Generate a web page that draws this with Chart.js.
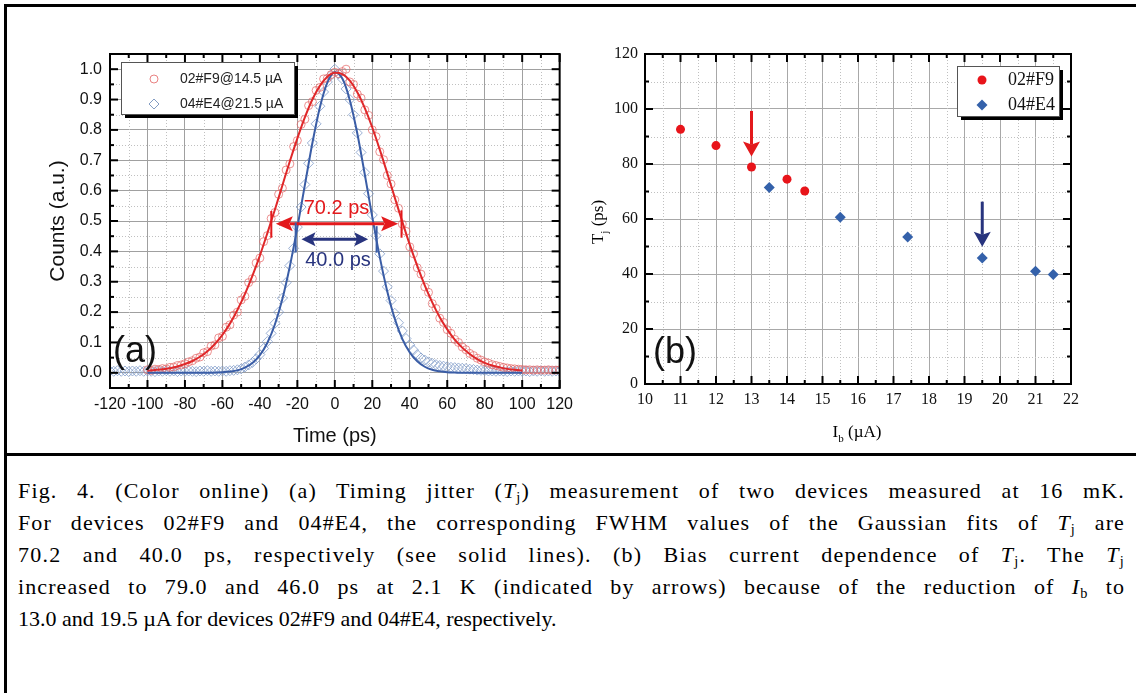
<!DOCTYPE html>
<html>
<head>
<meta charset="utf-8">
<script src="https://cdn.jsdelivr.net/npm/chart.js@4.4.0/dist/chart.umd.min.js"></script>
<style>
  html, body { margin: 0; padding: 0; background: #fff; }
  body { width: 1136px; height: 693px; position: relative; overflow: hidden; }
  #frame { position: absolute; left: 4px; top: 4px; width: 1140px; height: 700px; border-left: 3px solid #000; border-top: 3px solid #000; }
  #sep { position: absolute; left: 4px; top: 453px; width: 1140px; height: 3px; background: #000; }
  #chartA { position: absolute; left: 0; top: 0; }
  #chartB { position: absolute; left: 580px; top: 0; }
  #caption { position: absolute; left: 18px; top: 475px; width: 1107px; font-family: "Liberation Serif", "Times New Roman", serif; font-size: 22px; line-height: 32px; color: #000; }
  #caption .ln { text-align: justify; text-align-last: justify; white-space: nowrap; }
  #caption .last { text-align: left; text-align-last: left; }
  #caption sub { font-size: 65%; vertical-align: -0.25em; line-height: 0; }
</style>
</head>
<body>
<div id="frame"></div>
<div id="sep"></div>
<canvas id="chartA" width="580" height="455"></canvas>
<canvas id="chartB" width="556" height="455"></canvas>
<div id="caption">
  <div class="ln">Fig. 4. (Color online) (a) Timing jitter (<i>T</i><sub>j</sub>) measurement of two devices measured at 16 mK.</div>
  <div class="ln">For devices 02#F9 and 04#E4, the corresponding FWHM values of the Gaussian fits of <i>T</i><sub>j</sub> are</div>
  <div class="ln">70.2 and 40.0 ps, respectively (see solid lines). (b) Bias current dependence of <i>T</i><sub>j</sub>. The <i>T</i><sub>j</sub></div>
  <div class="ln">increased to 79.0 and 46.0 ps at 2.1 K (indicated by arrows) because of the reduction of <i>I</i><sub>b</sub> to</div>
  <div class="ln last">13.0 and 19.5 µA for devices 02#F9 and 04#E4, respectively.</div>
</div>
<script>
// ---- (a) timing jitter histograms ----
const timePs = [
  -120, -118, -116, -114, -112, -110, -108, -106, -104, -102,
  -100, -98, -96, -94, -92, -90, -88, -86, -84, -82,
  -80, -78, -76, -74, -72, -70, -68, -66, -64, -62,
  -60, -58, -56, -54, -52, -50, -48, -46, -44, -42,
  -40, -38, -36, -34, -32, -30, -28, -26, -24, -22,
  -20, -18, -16, -14, -12, -10, -8, -6, -4, -2,
  0, 2, 4, 6, 8, 10, 12, 14, 16, 18,
  20, 22, 24, 26, 28, 30, 32, 34, 36, 38,
  40, 42, 44, 46, 48, 50, 52, 54, 56, 58,
  60, 62, 64, 66, 68, 70, 72, 74, 76, 78,
  80, 82, 84, 86, 88, 90, 92, 94, 96, 98,
  100, 102, 104, 106, 108, 110, 112, 114, 116, 118,
  120
];
const countsF9 = [
  null, null, null, null, null, null, null, null, null, null,
  .010, .008, .012, .011, .014, .013, .018, .019, .024, .026,
  .030, .036, .040, .048, .052, .066, .070, .088, .092, .115,
  .120, .150, .158, .190, .200, .240, .252, .297, .310, .362,
  .378, .432, .452, .508, .528, .588, .608, .668, .688, .745,
  .765, .818, .835, .880, .893, .930, .940, .968, .970, .982,
  .990, .985, .992, 1.000, .958, .950, .918, .905, .866, .848,
  .800, .778, .728, .702, .650, .622, .570, .542, .490, .466,
  .415, .392, .346, .325, .283, .265, .228, .212, .180, .166,
  .142, .130, .110, .100, .085, .076, .064, .057, .048, .042,
  .036, .032, .027, .024, .021, .018, .016, .014, .013, .012,
  .011, .010, .010, .009, .010, .009, .009, .010, .009, .009,
  .010
];
const countsE4 = [
  .006, .005, .007, .005, .006, .004, .006, .005, .007, .005,
  .006, .005, .004, .006, .005, .007, .005, .006, .004, .006,
  .005, .006, .005, .004, .006, .005, .007, .005, .006, .005,
  .006, .005, .007, .008, .010, .013, .019, .026, .034, .046,
  .060, .080, .103, .130, .163, .200, .246, .297, .353, .410,
  .480, .546, .620, .690, .757, .820, .878, .925, .958, .980,
  1.000, .985, .968, .935, .900, .850, .790, .726, .660, .590,
  .520, .452, .392, .335, .283, .238, .196, .165, .138, .113,
  .092, .075, .060, .049, .042, .036, .031, .027, .024, .022,
  .020, .018, .017, .016, .015, .014, .012, .011, .009, .008,
  .007, .006, .006, .005, .006, .005, .004, .006, .005, .006,
  .005, .006, .004, .006, .005, .007, .005, .006, .005, .006,
  .005
];
const fitTimePs = [
  -100, -96, -92, -88, -84, -80, -76, -72, -68, -64,
  -60, -56, -52, -48, -44, -40, -36, -32, -28, -24,
  -20, -16, -12, -8, -4, 0, 4, 8, 12, 16,
  20, 24, 28, 32, 36, 40, 44, 48, 52, 56,
  60, 64, 68, 72, 76, 80, 84, 88, 92, 96,
  100
];
const fitF9 = [
  .007, .009, .012, .015, .021, .029, .039, .053, .071, .095,
  .125, .162, .207, .259, .319, .386, .460, .537, .617, .697,
  .772, .841, .900, .945, .975, .988, .984, .962, .924, .872,
  .808, .735, .657, .577, .498, .422, .352, .288, .232, .183,
  .143, .109, .083, .062, .045, .033, .024, .018, .013, .010,
  .008
];
const fitE4 = [
  0, 0, 0, 0, 0, 0, 0, 0, 0, .001,
  .002, .004, .008, .017, .032, .058, .099, .159, .243, .351,
  .479, .618, .756, .874, .956, .990, .969, .898, .788, .653,
  .513, .381, .268, .178, .112, .067, .038, .020, .010, .005,
  .002, .001, 0, 0, 0, 0, 0, 0, 0, 0,
  0
];
const xTicksA = [-120, -100, -80, -60, -40, -20, 0, 20, 40, 60, 80, 100, 120];
const xMinorA = [-110, -90, -70, -50, -30, -10, 10, 30, 50, 70, 90, 110];
const yTicksA = [0, 0.1, 0.2, 0.3, 0.4, 0.5, 0.6, 0.7, 0.8, 0.9, 1.0];
const yMinorA = [0.05, 0.15, 0.25, 0.35, 0.45, 0.55, 0.65, 0.75, 0.85, 0.95];

// ---- (b) jitter vs bias current ----
const biasF9 = [11, 12, 13, 14, 14.5];
const jitterF9 = [92.6, 86.7, 78.9, 74.5, 70.2];
const biasE4 = [13.5, 15.5, 17.4, 19.5, 21, 21.5];
const jitterE4 = [71.5, 60.6, 53.5, 45.8, 41.0, 39.8];
const xTicksB = [10, 11, 12, 13, 14, 15, 16, 17, 18, 19, 20, 21, 22];
const xMinorB = [10.5, 11.5, 12.5, 13.5, 14.5, 15.5, 16.5, 17.5, 18.5, 19.5, 20.5, 21.5];
const yTicksB = [0, 20, 40, 60, 80, 100, 120];
const yMinorB = [10, 30, 50, 70, 90, 110];

const RED = '#e3191c';
const RED_FIT = '#e0282a';
const BLUE_FIT = '#3a5da6';
const NAVY = '#28347e';
const SANS = '"Liberation Sans", Arial, sans-serif';
const SERIF = '"Liberation Serif", "Times New Roman", serif';

function pts(xs, ys) {
  const out = [];
  xs.forEach((x, i) => { if (ys[i] !== null) out.push({ x: x, y: ys[i] }); });
  return out;
}

// minor dotted grid + black frame + inward ticks on all four sides
function boxPlugin(xMajor, xMinor, yMajor, yMinor) {
  return {
    id: 'box',
    beforeDatasetsDraw(chart) {
      const { ctx, chartArea: a, scales: { x, y } } = chart;
      ctx.save();
      ctx.strokeStyle = '#c0c0c0';
      ctx.lineWidth = 1;
      ctx.setLineDash([1, 2]);
      xMinor.forEach(v => {
        const p = Math.round(x.getPixelForValue(v)) + 0.5;
        ctx.beginPath(); ctx.moveTo(p, a.top); ctx.lineTo(p, a.bottom); ctx.stroke();
      });
      yMinor.forEach(v => {
        const p = Math.round(y.getPixelForValue(v)) + 0.5;
        ctx.beginPath(); ctx.moveTo(a.left, p); ctx.lineTo(a.right, p); ctx.stroke();
      });
      ctx.restore();
    },
    afterDraw(chart) {
      const { ctx, chartArea: a, scales: { x, y } } = chart;
      ctx.save();
      ctx.strokeStyle = '#000';
      ctx.lineWidth = 2;
      ctx.strokeRect(a.left, a.top, a.right - a.left, a.bottom - a.top);
      const tick = (vals, len) => {
        vals.forEach(v => {
          const px = x.getPixelForValue(v);
          ctx.beginPath(); ctx.moveTo(px, a.bottom); ctx.lineTo(px, a.bottom - len); ctx.stroke();
          ctx.beginPath(); ctx.moveTo(px, a.top); ctx.lineTo(px, a.top + len); ctx.stroke();
        });
      };
      const tickY = (vals, len) => {
        vals.forEach(v => {
          const py = y.getPixelForValue(v);
          ctx.beginPath(); ctx.moveTo(a.left, py); ctx.lineTo(a.left + len, py); ctx.stroke();
          ctx.beginPath(); ctx.moveTo(a.right, py); ctx.lineTo(a.right - len, py); ctx.stroke();
        });
      };
      tick(xMajor, 8); tick(xMinor, 4);
      tickY(yMajor, 8); tickY(yMinor, 4);
      ctx.restore();
    }
  };
}

function legendBox(ctx, x, y, w, h) {
  ctx.save();
  ctx.fillStyle = '#000';
  ctx.fillRect(x + 4, y + 4, w, h);
  ctx.fillStyle = '#fff';
  ctx.fillRect(x, y, w, h);
  ctx.strokeStyle = '#555';
  ctx.lineWidth = 1;
  ctx.strokeRect(x + 0.5, y + 0.5, w, h);
  ctx.restore();
}

function diamond(ctx, cx, cy, r) {
  ctx.beginPath();
  ctx.moveTo(cx, cy - r); ctx.lineTo(cx + r, cy); ctx.lineTo(cx, cy + r); ctx.lineTo(cx - r, cy);
  ctx.closePath();
}

function hArrow(ctx, x1, x2, y, head, half, color) {
  ctx.save();
  ctx.strokeStyle = color; ctx.fillStyle = color; ctx.lineWidth = 3;
  ctx.beginPath(); ctx.moveTo(x1 + head - 3, y); ctx.lineTo(x2 - head + 3, y); ctx.stroke();
  [[x1, 1], [x2, -1]].forEach(([tip, d]) => {
    ctx.beginPath();
    ctx.moveTo(tip, y);
    ctx.lineTo(tip + d * head, y - half);
    ctx.lineTo(tip + d * head * 0.8, y);
    ctx.lineTo(tip + d * head, y + half);
    ctx.closePath();
    ctx.fill();
  });
  ctx.restore();
}

function vArrow(ctx, x, yTop, yTip, head, half, color) {
  ctx.save();
  ctx.strokeStyle = color; ctx.fillStyle = color; ctx.lineWidth = 3;
  ctx.beginPath(); ctx.moveTo(x, yTop); ctx.lineTo(x, yTip - head + 3); ctx.stroke();
  ctx.beginPath();
  ctx.moveTo(x, yTip);
  ctx.lineTo(x - half, yTip - head);
  ctx.lineTo(x, yTip - head * 0.8);
  ctx.lineTo(x + half, yTip - head);
  ctx.closePath();
  ctx.fill();
  ctx.restore();
}

function vBar(ctx, px, y1, y2, color) {
  ctx.save();
  ctx.strokeStyle = color; ctx.lineWidth = 2;
  ctx.beginPath(); ctx.moveTo(px, y1); ctx.lineTo(px, y2); ctx.stroke();
  ctx.restore();
}

// text with a subscript part, centred on (cx, cy)
function subText(ctx, parts, cx, cy, size, font) {
  ctx.save();
  let total = 0;
  parts.forEach(p => {
    ctx.font = (p.sub ? Math.round(size * 0.65) : size) + 'px ' + font;
    p.w = ctx.measureText(p.t).width;
    total += p.w;
  });
  let x = cx - total / 2;
  ctx.textBaseline = 'middle';
  ctx.textAlign = 'left';
  ctx.fillStyle = '#000';
  parts.forEach(p => {
    ctx.font = (p.sub ? Math.round(size * 0.65) : size) + 'px ' + font;
    ctx.fillText(p.t, x, cy + (p.sub ? size * 0.35 : 0));
    x += p.w;
  });
  ctx.restore();
}

const annotA = {
  id: 'annotA',
  afterDraw(chart) {
    const { ctx, scales: { x, y } } = chart;
    // FWHM markers
    vBar(ctx, x.getPixelForValue(-33.9), y.getPixelForValue(0.445), y.getPixelForValue(0.533), RED);
    vBar(ctx, x.getPixelForValue(35.6), y.getPixelForValue(0.445), y.getPixelForValue(0.535), RED);
    hArrow(ctx, x.getPixelForValue(-31.5), x.getPixelForValue(33.8), y.getPixelForValue(0.491), 17, 7.5, RED);
    vBar(ctx, x.getPixelForValue(-20.9), y.getPixelForValue(0.396), y.getPixelForValue(0.495), BLUE_FIT);
    vBar(ctx, x.getPixelForValue(22.3), y.getPixelForValue(0.396), y.getPixelForValue(0.483), BLUE_FIT);
    hArrow(ctx, x.getPixelForValue(-17.8), x.getPixelForValue(17.8), y.getPixelForValue(0.44), 14, 7, NAVY);
    ctx.save();
    ctx.textAlign = 'center';
    ctx.textBaseline = 'middle';
    ctx.font = '20px ' + SANS;
    ctx.fillStyle = RED;
    ctx.fillText('70.2 ps', x.getPixelForValue(0.9), y.getPixelForValue(0.542));
    ctx.fillStyle = NAVY;
    ctx.fillText('40.0 ps', x.getPixelForValue(1.7), y.getPixelForValue(0.371));
    ctx.fillStyle = '#111';
    ctx.textAlign = 'left';
    ctx.font = '36px ' + SANS;
    ctx.fillText('(a)', 113, 352);
    ctx.restore();
    // legend
    legendBox(ctx, 121, 62, 173, 52);
    ctx.save();
    ctx.lineWidth = 1;
    ctx.strokeStyle = 'rgba(225,90,90,0.75)';
    ctx.beginPath(); ctx.arc(154, 79, 4, 0, Math.PI * 2); ctx.stroke();
    ctx.strokeStyle = 'rgba(110,140,185,0.85)';
    diamond(ctx, 154, 104, 5); ctx.stroke();
    ctx.fillStyle = '#222';
    ctx.font = '14px ' + SANS;
    ctx.textBaseline = 'middle';
    ctx.fillText('02#F9@14.5 µA', 180, 79);
    ctx.fillText('04#E4@21.5 µA', 180, 104);
    ctx.restore();
  }
};

new Chart(document.getElementById('chartA'), {
  type: 'scatter',
  data: {
    datasets: [
      { label: '02#F9 fit', data: pts(fitTimePs, fitF9), showLine: true, pointRadius: 0, borderColor: RED_FIT, borderWidth: 2, cubicInterpolationMode: 'monotone' },
      { label: '04#E4 fit', data: pts(fitTimePs, fitE4), showLine: true, pointRadius: 0, borderColor: BLUE_FIT, borderWidth: 2, cubicInterpolationMode: 'monotone' },
      { label: '02#F9@14.5 µA', data: pts(timePs, countsF9), pointStyle: 'circle', pointRadius: 4, borderWidth: 1, borderColor: 'rgba(228,100,100,0.7)', backgroundColor: 'rgba(0,0,0,0)' },
      { label: '04#E4@21.5 µA', data: pts(timePs, countsE4), pointStyle: 'rectRot', pointRadius: 5, borderWidth: 1, borderColor: 'rgba(120,150,198,0.75)', backgroundColor: 'rgba(0,0,0,0)' }
    ]
  },
  options: {
    responsive: false,
    animation: false,
    layout: { padding: { top: 54, right: 20, left: 0, bottom: 0 } },
    plugins: { legend: { display: false }, tooltip: { enabled: false } },
    scales: {
      x: {
        type: 'linear', min: -120, max: 120,
        afterBuildTicks: s => { s.ticks = xTicksA.map(v => ({ value: v })); },
        afterFit: s => { s.height = 67; },
        grid: { color: '#a0a0a0', lineWidth: 1, drawTicks: false },
        border: { display: false },
        ticks: { autoSkip: false, maxRotation: 0, padding: 7, color: '#111', font: { family: SANS, size: 16 } },
        title: { display: true, text: 'Time (ps)', color: '#111', font: { family: SANS, size: 20 }, padding: { top: 0, bottom: 7 } }
      },
      y: {
        type: 'linear', min: -0.05, max: 1.05,
        afterBuildTicks: s => { s.ticks = yTicksA.map(v => ({ value: v })); },
        afterFit: s => { s.width = 110; },
        grid: { color: '#a0a0a0', lineWidth: 1, drawTicks: false },
        border: { display: false },
        ticks: { padding: 8, color: '#111', font: { family: SANS, size: 16 }, callback: v => v.toFixed(1) },
        title: { display: true, text: 'Counts (a.u.)', color: '#111', font: { family: SANS, size: 21 }, padding: { top: 46, bottom: 0 } }
      }
    }
  },
  plugins: [boxPlugin(xTicksA, xMinorA, yTicksA, yMinorA), annotA]
});

const annotB = {
  id: 'annotB',
  afterDraw(chart) {
    const { ctx, scales: { x, y } } = chart;
    vArrow(ctx, x.getPixelForValue(13), y.getPixelForValue(99.3), y.getPixelForValue(82.7), 15, 8.5, RED);
    vArrow(ctx, x.getPixelForValue(19.5), y.getPixelForValue(66.3), y.getPixelForValue(49.9), 15, 8.5, NAVY);
    ctx.save();
    ctx.fillStyle = '#111';
    ctx.font = '36px ' + SANS;
    ctx.textBaseline = 'middle';
    ctx.fillText('(b)', 73, 353);
    ctx.restore();
    // axis titles with subscripts
    subText(ctx, [{ t: 'I' }, { t: 'b', sub: true }, { t: ' (µA)' }], 277, 433, 17, SERIF);
    ctx.save();
    ctx.translate(19, 222);
    ctx.rotate(-Math.PI / 2);
    subText(ctx, [{ t: 'T' }, { t: 'j', sub: true }, { t: ' (ps)' }], 0, 0, 17, SERIF);
    ctx.restore();
    // legend
    legendBox(ctx, 377, 66, 102, 50);
    ctx.save();
    ctx.fillStyle = '#e8141a';
    ctx.beginPath(); ctx.arc(402, 80, 4.5, 0, Math.PI * 2); ctx.fill();
    ctx.fillStyle = '#3461aa';
    diamond(ctx, 402, 105, 5.5); ctx.fill();
    ctx.fillStyle = '#111';
    ctx.font = '18px ' + SERIF;
    ctx.textBaseline = 'middle';
    ctx.fillText('02#F9', 428, 80);
    ctx.fillText('04#E4', 428, 105);
    ctx.restore();
  }
};

new Chart(document.getElementById('chartB'), {
  type: 'scatter',
  data: {
    datasets: [
      { label: '02#F9', data: pts(biasF9, jitterF9), pointStyle: 'circle', pointRadius: 4.5, borderWidth: 0, backgroundColor: '#e8141a' },
      { label: '04#E4', data: pts(biasE4, jitterE4), pointStyle: 'rectRot', pointRadius: 5.5, borderWidth: 0, backgroundColor: '#3461aa' }
    ]
  },
  options: {
    responsive: false,
    animation: false,
    layout: { padding: { top: 54, right: 65, left: 0, bottom: 0 } },
    plugins: { legend: { display: false }, tooltip: { enabled: false } },
    scales: {
      x: {
        type: 'linear', min: 10, max: 22,
        afterBuildTicks: s => { s.ticks = xTicksB.map(v => ({ value: v })); },
        afterFit: s => { s.height = 71; },
        grid: { color: '#a8a8a8', lineWidth: 1, drawTicks: false },
        border: { display: false },
        ticks: { autoSkip: false, maxRotation: 0, padding: 6, color: '#111', font: { family: SERIF, size: 16 } }
      },
      y: {
        type: 'linear', min: 0, max: 120,
        afterBuildTicks: s => { s.ticks = yTicksB.map(v => ({ value: v })); },
        afterFit: s => { s.width = 65; },
        grid: { color: '#a8a8a8', lineWidth: 1, drawTicks: false },
        border: { display: false },
        ticks: { padding: 7, color: '#111', font: { family: SERIF, size: 16 } }
      }
    }
  },
  plugins: [boxPlugin(xTicksB, xMinorB, yTicksB, yMinorB), annotB]
});

// caption: spread part of the justification over the letters, the rest over word gaps
document.querySelectorAll('#caption .ln:not(.last)').forEach(el => {
  el.style.width = 'max-content';
  const w = el.getBoundingClientRect().width;
  el.style.width = '';
  const n = el.textContent.trim().length;
  const ls = Math.max(0, (1107 - w) * 0.35 / n);
  el.style.letterSpacing = ls.toFixed(2) + 'px';
});
</script>
</body>
</html>
